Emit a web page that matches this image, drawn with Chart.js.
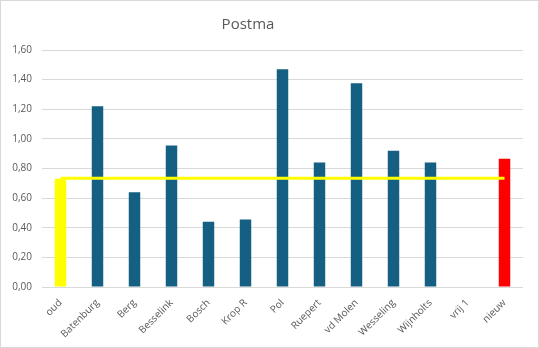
<!DOCTYPE html>
<html>
<head>
<meta charset="utf-8">
<script src="https://cdn.jsdelivr.net/npm/chart.js@4/dist/chart.umd.min.js"></script>
<style>
  html, body { margin: 0; padding: 0; background: #fff; }
  #wrap { width: 539px; height: 348px; box-sizing: border-box; border: 1px solid #d9d9d9; position: relative; }
  canvas { display: block; }
</style>
</head>
<body>
<div id="wrap"><canvas id="c" width="537" height="346"></canvas></div>
<script>
const categories = ['oud', 'Batenburg', 'Berg', 'Besselink', 'Bosch', 'Krop R', 'Pol', 'Ruepert', 'vd Molen', 'Wesseling', 'Wijnholts', 'vrij 1', 'nieuw'];
const scores = [0.73, 1.22, 0.64, 0.955, 0.44, 0.455, 1.47, 0.84, 1.375, 0.92, 0.84, null, 0.865];
const referenceLine = [0.735, 0.735, 0.735, 0.735, 0.735, 0.735, 0.735, 0.735, 0.735, 0.735, 0.735, 0.735, 0.735];
const yTicks = [0, 0.2, 0.4, 0.6, 0.8, 1.0, 1.2, 1.4, 1.6];
const chartTitle = 'Postma';

const barColors = categories.map(c => c === 'oud' ? '#ffff00' : (c === 'nieuw' ? '#ff0000' : '#156082'));

const titlePlugin = {
  id: 'titleText',
  afterDraw(chart) {
    const ctx = chart.ctx;
    ctx.save();
    ctx.font = '15px "Open Sans", sans-serif';
    ctx.fillStyle = '#595959';
    ctx.textAlign = 'center';
    ctx.textBaseline = 'middle';
    ctx.fillText(chartTitle, 247, 24);
    ctx.restore();
  }
};

new Chart(document.getElementById('c'), {
  data: {
    labels: categories,
    datasets: [
      {
        type: 'line',
        data: referenceLine,
        borderColor: '#ffff00',
        borderWidth: 3,
        pointRadius: 0,
        fill: false,
        order: 0
      },
      {
        type: 'bar',
        data: scores,
        backgroundColor: barColors,
        barPercentage: 1,
        categoryPercentage: 0.31,
        order: 1
      }
    ]
  },
  options: {
    responsive: false,
    animation: false,
    layout: { padding: { top: 49, right: 15, left: 0, bottom: 0 } },
    plugins: { legend: { display: false }, tooltip: { enabled: false }, title: { display: false } },
    scales: {
      x: {
        grid: { display: false },
        border: { display: false },
        ticks: {
          minRotation: 45, maxRotation: 45, autoSkip: false,
          color: '#595959', font: { family: '"Open Sans", sans-serif', size: 10 }, padding: 2
        },
        afterFit(scale) { scale.height = 60; }
      },
      y: {
        min: 0, max: 1.6,
        afterBuildTicks(scale) { scale.ticks = yTicks.map(v => ({ value: v })); },
        grid: { color: '#d9d9d9', lineWidth: 1, drawTicks: false },
        border: { display: false },
        ticks: {
          color: '#595959', font: { family: '"Open Sans", sans-serif', size: 10 }, padding: 10,
          callback: v => v.toFixed(2).replace('.', ',')
        },
        afterFit(scale) { scale.width = 41; }
      }
    }
  },
  plugins: [titlePlugin]
});
</script>
</body>
</html>
